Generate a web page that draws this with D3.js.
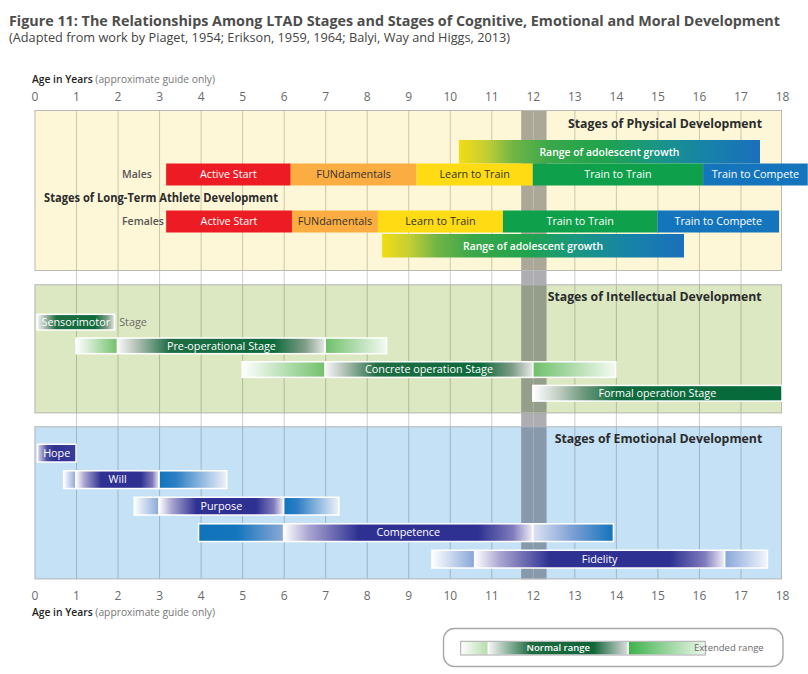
<!DOCTYPE html>
<html><head><meta charset="utf-8">
<script src="https://cdn.jsdelivr.net/npm/d3@7"></script>
<style>body{margin:0;background:#fff} svg{display:block} text{font-family:"Open Sans",sans-serif}</style>
</head><body><svg id="c" width="808" height="674"></svg>
<script>
// ---------------- DATA ----------------
const titleText = "Figure 11: The Relationships Among LTAD Stages and Stages of Cognitive, Emotional and Moral Development";
const subtitleText = "(Adapted from work by Piaget, 1954; Erikson, 1959, 1964; Balyi, Way and Higgs, 2013)";
const axisTitleMain = "Age in Years";
const axisTitleNote = "(approximate guide only)";
const ageTicks = [0,1,2,3,4,5,6,7,8,9,10,11,12,13,14,15,16,17,18];
const sectionTitles = ["Stages of Physical Development","Stages of Intellectual Development","Stages of Emotional Development"];
const ltadTitle = "Stages of Long-Term Athlete Development";
const maleStages = [
  {name:"Active Start", start:3.17, end:6.17},
  {name:"FUNdamentals", start:6.17, end:9.2},
  {name:"Learn to Train", start:9.2, end:12.0},
  {name:"Train to Train", start:12.0, end:16.1},
  {name:"Train to Compete", start:16.1, end:18.62}
];
const femaleStages = [
  {name:"Active Start", start:3.17, end:6.2},
  {name:"FUNdamentals", start:6.2, end:8.27},
  {name:"Learn to Train", start:8.27, end:11.28},
  {name:"Train to Train", start:11.28, end:15.0},
  {name:"Train to Compete", start:15.0, end:17.93}
];
const growthLabel = "Range of adolescent growth";
const growthRanges = [
  {group:"Males", start:10.22, end:17.47},
  {group:"Females", start:8.37, end:15.64}
];
const peakGrowthBand = [11.72, 12.33];
const intellectualStages = [
  {name:"Sensorimotor", suffix:"Stage", normal:[0.06,1.93]},
  {name:"Pre-operational Stage", extLeft:[1,2], normal:[2,7], extRight:[7,8.48]},
  {name:"Concrete operation Stage", extLeft:[5,7], normal:[7,12], extRight:[12,14]},
  {name:"Formal operation Stage", normal:[12,18]}
];
const emotionalStages = [
  {name:"Hope", normal:[0.07,1]},
  {name:"Will", extLeft:[0.7,1], normal:[1,3], extRight:[3,4.63]},
  {name:"Purpose", extLeft:[2.4,3], normal:[3,6], extRight:[6,7.33]},
  {name:"Competence", extLeft:[3.95,6], normal:[6,12], extRight:[12,13.94]},
  {name:"Fidelity", extLeft:[9.57,10.6], normal:[10.6,16.62], extRight:[16.62,17.65]}
];
const legendSegments = [
  {part:"extLeft", from:0, to:0.113, label:""},
  {part:"normal", from:0.113, to:0.685, label:"Normal range"},
  {part:"extRight", from:0.685, to:1, label:""}
];
const legendExtLabel = "Extended range";

// ---------------- DRAWING ----------------
const svg = d3.select("#c");
const x = d3.scaleLinear().domain([0,18]).range([34.5,782]);
const defs = svg.append("defs");
function grad(id, stops){
  const g = defs.append("linearGradient").attr("id",id).attr("x1",0).attr("x2",1).attr("y1",0).attr("y2",0);
  stops.forEach(([o,c])=>g.append("stop").attr("offset",o).attr("stop-color",c));
}
grad("gRange",[[0,"#f2dc14"],[0.09,"#c4cf33"],[0.18,"#72b545"],[0.3,"#3aa84a"],[0.48,"#1fa34c"],[0.65,"#1a9683"],[0.82,"#1683a8"],[1,"#1b6fbb"]]);
grad("gGreenNormal",[[0,"#f8f8f6"],[0.08,"#bcc8bf"],[0.25,"#1f6d43"],[0.75,"#0c6a3b"],[0.9,"#7d9c86"],[1,"#e8eae6"]]);
grad("gGreenStart",[[0,"#ffffff"],[0.1,"#c3cfc5"],[0.2,"#709b7f"],[0.34,"#0f6b3d"],[1,"#046a3a"]]);
grad("gGreenIn",[[0,"#ffffff"],[1,"#72c06b"]]);
grad("gGreenOut",[[0,"#6ec06a"],[1,"#f4faf2"]]);
grad("gNavyNormal",[[0,"#ffffff"],[0.1,"#aaa5d1"],[0.3,"#2e3192"],[0.78,"#2e3192"],[0.92,"#7f7bbc"],[1,"#f2f1f8"]]);
grad("gNavyHope",[[0,"#e3e1ef"],[0.25,"#4a4a9e"],[0.45,"#2e3192"],[1,"#3a3c98"]]);
grad("gBlueLightIn",[[0,"#ffffff"],[1,"#88a6d8"]]);
grad("gBlueStrongOut",[[0,"#1174bb"],[0.25,"#2c7fc3"],[1,"#f0f2fa"]]);
grad("gBlueLightOut",[[0,"#86a6d9"],[1,"#f4f6fc"]]);
grad("gBlueStrongToLight",[[0,"#1174bb"],[0.45,"#1376bc"],[1,"#8ca8d8"]]);
grad("gLightToBlueStrong",[[0,"#dfe3f3"],[0.5,"#7b9fd3"],[1,"#1174bb"]]);
grad("gLegIn",[[0,"#ffffff"],[1,"#b4dcaa"]]);
grad("gLegNormal",[[0,"#f7f7f7"],[0.3,"#1e6b40"],[0.75,"#10653a"],[1,"#dedede"]]);
grad("gLegOut",[[0,"#3db24a"],[1,"#eef7ec"]]);

const intGrad = {
  "Sensorimotor":{normal:"gGreenNormal"},
  "Pre-operational Stage":{extLeft:"gGreenIn",normal:"gGreenNormal",extRight:"gGreenOut"},
  "Concrete operation Stage":{extLeft:"gGreenIn",normal:"gGreenNormal",extRight:"gGreenOut"},
  "Formal operation Stage":{normal:"gGreenStart"}
};
const emoGrad = {
  "Hope":{normal:"gNavyHope"},
  "Will":{extLeft:"gBlueLightIn",normal:"gNavyNormal",extRight:"gBlueStrongOut"},
  "Purpose":{extLeft:"gBlueLightIn",normal:"gNavyNormal",extRight:"gBlueStrongOut"},
  "Competence":{extLeft:"gBlueStrongToLight",normal:"gNavyNormal",extRight:"gLightToBlueStrong"},
  "Fidelity":{extLeft:"gBlueLightIn",normal:"gNavyNormal",extRight:"gBlueLightOut"}
};
const legGrad = {extLeft:"gLegIn", normal:"gLegNormal", extRight:"gLegOut"};
const stageColor = {"Active Start":"#ed1c24","FUNdamentals":"#fbad41","Learn to Train":"#fedb12","Train to Train":"#0fa04b","Train to Compete":"#1475bc"};
const stageText = {"Active Start":"#fff","FUNdamentals":"#333","Learn to Train":"#333","Train to Train":"#fff","Train to Compete":"#fff"};

// Title
svg.append("text").attr("x",9).attr("y",25.8).attr("font-size",14).attr("font-weight",700)
  .attr("fill","#4d4d4d").attr("textLength",771).attr("lengthAdjust","spacingAndGlyphs").text(titleText);
svg.append("text").attr("x",9).attr("y",42).attr("font-size",12.2).attr("fill","#444")
  .attr("textLength",501).attr("lengthAdjust","spacingAndGlyphs").text(subtitleText);

// Axis titles
function axisTitle(y){
  const t = svg.append("text").attr("x",32).attr("y",y).attr("font-size",10.3);
  t.append("tspan").attr("font-weight",600).attr("fill","#222").text(axisTitleMain);
  t.append("tspan").attr("fill","#777").text(" " + axisTitleNote);
}
axisTitle(83.3);
axisTitle(615.7);

// Tick labels via axes
const topAx = svg.append("g").attr("transform","translate(0,101.3)")
  .call(d3.axisTop(x).tickValues(ageTicks).tickSize(0).tickPadding(0).tickFormat(d3.format("d")));
const botAx = svg.append("g").attr("transform","translate(0,600)")
  .call(d3.axisBottom(x).tickValues(ageTicks).tickSize(0).tickPadding(0).tickFormat(d3.format("d")));
[topAx,botAx].forEach(g=>{
  g.select(".domain").remove();
  g.selectAll("text").attr("y",0).attr("dy",0).attr("font-size",12).attr("fill","#6a6a6a")
    .attr("font-family","'Open Sans',sans-serif");
});

// Panels
const panels = [
  {title:sectionTitles[0], y0:110, y1:271, fill:"#fdf7d8", tx:568, tw:194, ty:127.5},
  {title:sectionTitles[1], y0:284.3, y1:413.3, fill:"#dbe8c2", tx:547.7, tw:214, ty:300.5},
  {title:sectionTitles[2], y0:426.3, y1:579.3, fill:"#c5e1f5", tx:554.7, tw:207.6, ty:442.5}
];
svg.append("g").selectAll("rect").data(panels).join("rect")
  .attr("x",x(0)).attr("width",x(18)-x(0)).attr("y",d=>d.y0).attr("height",d=>d.y1-d.y0).attr("fill",d=>d.fill);

// peak growth band
svg.append("rect").attr("x",x(peakGrowthBand[0])).attr("width",x(peakGrowthBand[1])-x(peakGrowthBand[0]))
  .attr("y",panels[0].y0).attr("height",panels[2].y1-panels[0].y0).attr("fill","rgba(15,15,30,0.34)");

// gridlines
svg.append("g").selectAll("line").data(ageTicks.slice(1,-1)).join("line")
  .attr("x1",d=>x(d)+0.5).attr("x2",d=>x(d)+0.5).attr("y1",panels[0].y0).attr("y2",panels[2].y1)
  .attr("stroke",d=> (d>peakGrowthBand[0] && d<peakGrowthBand[1]) ? "rgba(255,255,255,0.22)" : "rgba(0,0,0,0.2)")
  .attr("stroke-width",1);

// panel borders
svg.append("g").selectAll("rect").data(panels).join("rect")
  .attr("x",x(0)+0.5).attr("width",x(18)-x(0)-1).attr("y",d=>d.y0+0.5).attr("height",d=>d.y1-d.y0-1)
  .attr("fill","none").attr("stroke","#b9b9b9").attr("stroke-width",1);

// ---- Physical development ----
const yPhys = d3.scaleBand().domain(["maleGrowth","Males","ltad","Females","femaleGrowth"]).range([140,257.5]);
const gPhys = svg.append("g");
growthRanges.forEach(r=>{
  const key = r.group==="Males" ? "maleGrowth" : "femaleGrowth";
  gPhys.append("rect").attr("x",x(r.start)).attr("width",x(r.end)-x(r.start))
    .attr("y",yPhys(key)).attr("height",yPhys.bandwidth()).attr("fill","url(#gRange)");
  gPhys.append("text").attr("x",(x(r.start)+x(r.end))/2).attr("y",yPhys(key)+yPhys.bandwidth()/2+3.8)
    .attr("text-anchor","middle").attr("font-size",10.5).attr("font-weight",600).attr("fill","#fff")
    .attr("textLength",140).attr("lengthAdjust","spacingAndGlyphs").text(growthLabel);
});
[["Males",maleStages],["Females",femaleStages]].forEach(([grp,stages])=>{
  gPhys.selectAll(null).data(stages).join("rect")
    .attr("x",d=>x(d.start)).attr("width",d=>x(d.end)-x(d.start))
    .attr("y",yPhys(grp)).attr("height",yPhys.bandwidth()-1.5).attr("fill",d=>stageColor[d.name]);
  gPhys.selectAll(null).data(stages).join("text")
    .attr("x",d=>(x(d.start)+x(d.end))/2).attr("y",yPhys(grp)+yPhys.bandwidth()/2+3)
    .attr("text-anchor","middle").attr("font-size",10.8).attr("fill",d=>stageText[d.name]).text(d=>d.name);
  gPhys.append("text").attr("x",122).attr("y",yPhys(grp)+yPhys.bandwidth()/2+3)
    .attr("font-size",10.5).attr("font-weight",600).attr("fill","#555").text(grp);
});
gPhys.append("text").attr("x",44).attr("y",201.5).attr("font-size",12.5).attr("font-weight",700).attr("fill","#2b2b2b")
  .attr("textLength",234).attr("lengthAdjust","spacingAndGlyphs").text(ltadTitle);

// section titles
svg.append("g").selectAll("text").data(panels).join("text")
  .attr("x",d=>d.tx).attr("y",d=>d.ty).attr("font-size",12.5).attr("font-weight",700).attr("fill","#2b2b2b")
  .attr("textLength",d=>d.tw).attr("lengthAdjust","spacingAndGlyphs").text(d=>d.title);

// ---- generic segmented bars ----
const parts = ["extLeft","normal","extRight"];
function drawStages(stages, yScale, gradMap){
  const g = svg.append("g");
  const segs = [];
  stages.forEach(s=>parts.forEach(p=>{ if(s[p]) segs.push({stage:s.name, part:p, r:s[p]}); }));
  g.selectAll("rect").data(segs).join("rect")
    .attr("x",d=>x(d.r[0])).attr("width",d=>x(d.r[1])-x(d.r[0]))
    .attr("y",d=>yScale(d.stage)).attr("height",yScale.bandwidth())
    .attr("fill",d=>`url(#${gradMap[d.stage][d.part]})`)
    .attr("stroke","#fff").attr("stroke-width",1.5);
  g.selectAll("text.lbl").data(stages).join("text").attr("class","lbl")
    .attr("x",d=>(x(d.normal[0])+x(d.normal[1]))/2).attr("y",d=>yScale(d.name)+yScale.bandwidth()/2+3.7)
    .attr("text-anchor","middle").attr("font-size",10.8).attr("fill","#fff").text(d=>d.name);
  g.selectAll("text.suf").data(stages.filter(d=>d.suffix)).join("text").attr("class","suf")
    .attr("x",d=>x(d.normal[1])+4.5).attr("y",d=>yScale(d.name)+yScale.bandwidth()/2+3.7)
    .attr("font-size",10.8).attr("fill","#6a6a6a").text(d=>d.suffix);
}
const yInt = d3.scaleBand().domain(intellectualStages.map(d=>d.name)).range([310.3,405.1]).paddingInner(0.34).paddingOuter(0.17);
drawStages(intellectualStages, yInt, intGrad);
const yEmo = d3.scaleBand().domain(emotionalStages.map(d=>d.name)).range([439.9,572.4]).paddingInner(0.33).paddingOuter(0.165);
drawStages(emotionalStages, yEmo, emoGrad);

// ---- Legend ----
const lg = svg.append("g");
lg.append("rect").attr("x",443.5).attr("y",628.5).attr("width",339.5).attr("height",38).attr("rx",11)
  .attr("fill","#fff").attr("stroke","#a9a9a9").attr("stroke-width",1.4);
const lx = d3.scaleLinear().domain([0,1]).range([460.7,705.3]);
const ly0 = 641.3, lh = 13.7;
lg.selectAll("rect.seg").data(legendSegments).join("rect").attr("class","seg")
  .attr("x",d=>lx(d.from)).attr("width",d=>lx(d.to)-lx(d.from)).attr("y",ly0).attr("height",lh)
  .attr("fill",d=>`url(#${legGrad[d.part]})`).attr("stroke","#fff").attr("stroke-width",1.2);
lg.append("rect").attr("x",lx(0)).attr("width",lx(1)-lx(0)).attr("y",ly0).attr("height",lh)
  .attr("fill","none").attr("stroke","#a8a8a8").attr("stroke-width",1);
lg.selectAll("text.seg").data(legendSegments.filter(d=>d.label)).join("text").attr("class","seg")
  .attr("x",d=>(lx(d.from)+lx(d.to))/2).attr("y",ly0+lh/2+3.3).attr("text-anchor","middle")
  .attr("font-size",9.5).attr("font-weight",600).attr("fill","#fff").text(d=>d.label);
lg.append("text").attr("x",694).attr("y",ly0+lh/2+3.3).attr("font-size",9.5).attr("fill","#6a6a6a").text(legendExtLabel);
</script></body></html>
